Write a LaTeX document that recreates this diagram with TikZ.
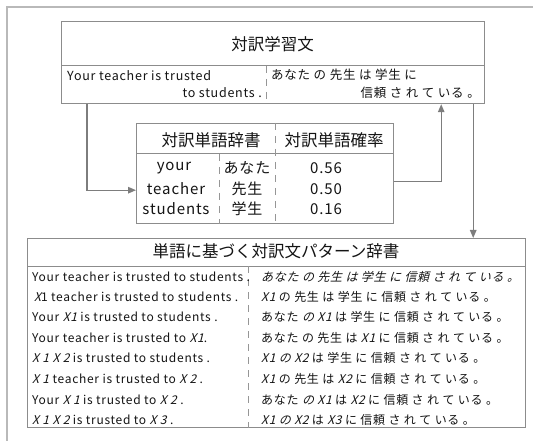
\documentclass[tikz,border=0pt]{standalone}
\usepackage{fontspec}
\setmainfont{Noto Sans CJK JP}
\newfontfamily\bodyfont[LetterSpace=6]{Noto Sans CJK JP}
\newfontfamily\xsl[FakeSlant=0.25,LetterSpace=6]{Noto Sans CJK JP}
\usetikzlibrary{arrows.meta,calc}
\definecolor{boxgray}{RGB}{140,140,140}
\definecolor{framegray}{RGB}{185,185,185}
\definecolor{arrgray}{RGB}{125,125,125}
\definecolor{dashgray}{RGB}{150,150,150}
\definecolor{txt}{RGB}{20,20,20}
\begin{document}
\begin{tikzpicture}[x=1bp,y=-1bp,
  box/.style={draw=boxgray, line width=1.2bp, anchor=north west, inner sep=0, fill=white},
  sep/.style={draw=boxgray, line width=1bp},
  dv/.style={draw=dashgray, line width=0.9bp, dash pattern=on 7bp off 6bp},
  arr/.style={draw=arrgray, line width=1.3bp, -{Triangle[length=8bp,width=6.5bp]}},
  frameline/.style={draw=framegray, line width=1.2bp},
  ttl/.style={inner sep=0, text=txt, font=\fontsize{16.5bp}{18bp}\selectfont},
  tb/.style={inner sep=0, text=txt, font=\bodyfont\fontsize{12.5bp}{14bp}\selectfont},
  mb/.style={inner sep=0, text=txt, font=\bodyfont\fontsize{15bp}{17bp}\selectfont},
  mh/.style={inner sep=0, text=txt, font=\fontsize{16.5bp}{18bp}\selectfont},
  bb/.style={inner sep=0, text=txt, font=\bodyfont\fontsize{12bp}{14bp}\selectfont, anchor=west}]
\useasboundingbox (0,0) rectangle (533,441);
\draw[frameline] (7,441) -- (7,7) -- (533,7);

% top box
\node[box, minimum width=423bp, minimum height=82bp] (top) at (61,21) {};
\draw[sep] ([yshift=-45bp]top.north west) -- ([yshift=-45bp]top.north east);
\draw[dv] ([xshift=205bp,yshift=-45bp]top.north west) -- ([xshift=205bp]top.south west);
\node[ttl] (toptitle) at (272.5,44) {対訳学習文};
\node[tb, anchor=west] (en1) at (67,76) {Your teacher is trusted};
\node[tb, anchor=east] (en2) at (262,93) {to students .};
\node[tb, anchor=west] (jp1) at (271,75) {あなた の 先生 は 学生 に};
\node[tb, anchor=east] (jp2) at (480,93) {信頼 さ れ て いる 。};

% middle box
\node[box, minimum width=257bp, minimum height=100bp] (mid) at (136,123) {};
\draw[sep] ([yshift=-31bp]mid.north west) -- ([yshift=-31bp]mid.north east);
\draw[dv] ([xshift=139bp]mid.north west) -- ([xshift=139bp]mid.south west);
\draw[dv] ([xshift=83bp,yshift=-31bp]mid.north west) -- ([xshift=83bp]mid.south west);
\node[mh] (h1) at (211,140) {対訳単語辞書};
\node[mh] (h2) at (334,140) {対訳単語確率};
\node[mb] (w1) at (174,168) {your};
\node[mb] (w2) at (176,189) {teacher};
\node[mb] (w3) at (176,209) {students};
\node[mb] (j1) at (247,168) {あなた};
\node[mb] (j2) at (247,189) {先生};
\node[mb] (j3) at (247,209) {学生};
\node[mb] (p1) at (326,168) {0.56};
\node[mb] (p2) at (326,189) {0.50};
\node[mb] (p3) at (326,209) {0.16};

% bottom box
\node[box, minimum width=498bp, minimum height=189bp] (bot) at (27,238) {};
\draw[sep] ([yshift=-28bp]bot.north west) -- ([yshift=-28bp]bot.north east);
\draw[dv] ([xshift=221bp,yshift=-28bp]bot.north west) -- ([xshift=221bp]bot.south west);
\node[ttl] (bottitle) at (276,251) {単語に基づく対訳文パターン辞書};
\node[bb] (l1) at (32,277) {Your teacher is trusted to students .};
\node[bb] (l2) at (34,297) {{\xsl X}1 teacher is trusted to students .};
\node[bb] (l3) at (32,317) {Your {\xsl X1} is trusted to students .};
\node[bb] (l4) at (32,338) {Your teacher is trusted to {\xsl X1}.};
\node[bb] (l5) at (32,358) {{\xsl X 1 X 2} is trusted to students .};
\node[bb] (l6) at (32,379) {{\xsl X 1} teacher is trusted to {\xsl X 2} .};
\node[bb] (l7) at (32,400) {Your {\xsl X 1} is trusted to {\xsl X 2} .};
\node[bb] (l8) at (32,420) {{\xsl X 1 X 2} is trusted to {\xsl X 3} .};
\node[bb] (r1) at (261,277) {\xsl あなた の 先生 は 学生 に 信頼 さ れ て いる 。};
\node[bb] (r2) at (261,297) {{\xsl X1} の 先生 は 学生 に 信頼 さ れ て いる 。};
\node[bb] (r3) at (261,317) {あなた {\xsl の X1} は 学生 に 信頼 さ れ て いる 。};
\node[bb] (r4) at (261,338) {あなた の 先生 は {\xsl X1} に 信頼 さ れ て いる 。};
\node[bb] (r5) at (261,358) {{\xsl X1 の X2} は 学生 に 信頼 さ れ て いる 。};
\node[bb] (r6) at (261,379) {{\xsl X1} の 先生 は {\xsl X2} に 信頼 さ れ て いる 。};
\node[bb] (r7) at (261,400) {あなた {\xsl の X1} は {\xsl X2} に 信頼 さ れ て いる 。};
\node[bb] (r8) at (261,420) {{\xsl X1 の X2} は {\xsl X3} に 信頼 さ れ て いる 。};

% connectors
\draw[arr] ([xshift=26bp]top.south west) |- ([yshift=34bp]mid.south west);
\draw[arr] ([yshift=-8bp]mid.east) -| ([xshift=-44bp]top.south east);
\draw[arr] ([xshift=-12bp]top.south east) -- ([xshift=-12bp]top.south east |- bot.north);
\end{tikzpicture}
\end{document}
